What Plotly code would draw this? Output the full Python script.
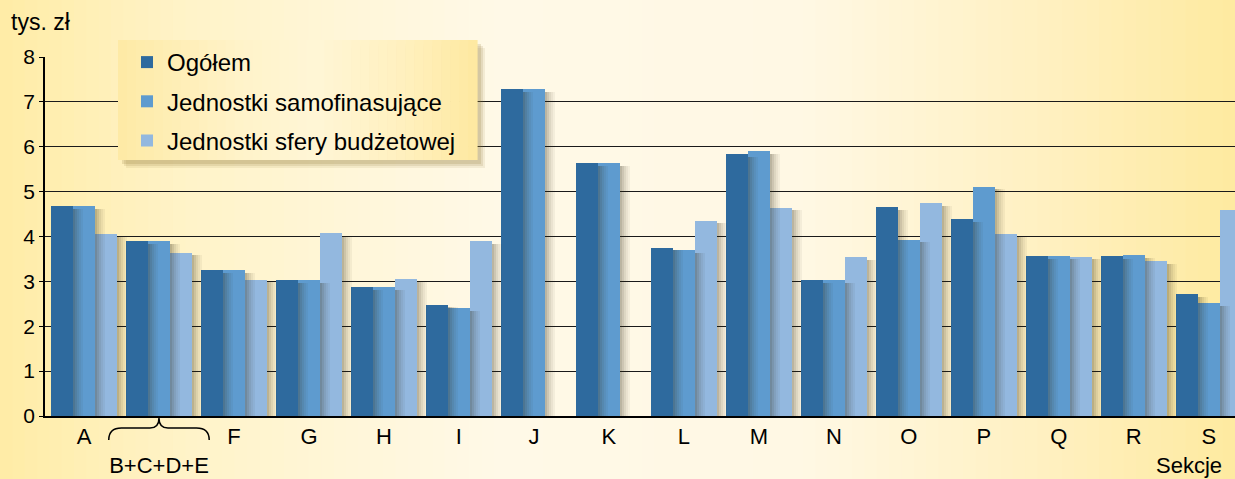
import plotly.graph_objects as go

categories = ["A", "B+C+D+E", "F", "G", "H", "I", "J", "K", "L", "M", "N", "O", "P", "Q", "R", "S"]
series_names = ["Ogółem", "Jednostki samofinasujące", "Jednostki sfery budżetowej"]
ogolem = [4.68, 3.89, 3.25, 3.03, 2.87, 2.48, 7.29, 5.64, 3.75, 5.83, 3.02, 4.66, 4.39, 3.56, 3.56, 2.71]
samofin = [4.68, 3.89, 3.25, 3.03, 2.87, 2.40, 7.29, 5.64, 3.70, 5.90, 3.02, 3.93, 5.11, 3.56, 3.58, 2.52]
budzet = [4.05, 3.64, 3.04, 4.07, 3.06, 3.90, None, None, 4.35, 4.64, 3.54, 4.74, 4.05, 3.55, 3.45, 4.58]
tick_labels = ["A", "<br>B+C+D+E", "F", "G", "H", "I", "J", "K", "L", "M", "N", "O", "P", "Q", "R", "S"]
y_ticks = [0, 1, 2, 3, 4, 5, 6, 7, 8]

series = [ogolem, samofin, budzet]
colors = ["#2E6A9E", "#5E9BCF", "#93B8DF"]
FONT = "Liberation Sans, Arial, sans-serif"

W, H = 1235, 479
ML, MR, MT, MB = 45, 0, 57, 63
PW, PH = W - ML - MR, H - MT - MB

bw = 0.2933
g0 = -0.44
xs = list(range(len(categories)))

fig = go.Figure()

for k, (vals, name, col) in enumerate(zip(series, series_names, colors)):
    fig.add_trace(go.Bar(
        x=xs, y=vals, name=name, marker=dict(color=col, line=dict(width=0)),
        width=bw, offset=g0 + k * bw, legendgroup=name,
    ))

# shadow strips at the right edge of every bar
strip_w = 0.027
alphas = [0.32, 0.24, 0.16, 0.10, 0.05]
for j, a in enumerate(alphas):
    sx, sy, so = [], [], []
    for k, vals in enumerate(series):
        for g, v in zip(xs, vals):
            if v is None:
                continue
            sx.append(g)
            sy.append(v - 0.06)
            so.append(g0 + (k + 1) * bw + j * strip_w)
    fig.add_trace(go.Bar(
        x=sx, y=sy, width=strip_w + 0.002, offset=so,
        marker=dict(color=f"rgba(45,38,15,{a})", line=dict(width=0)),
        showlegend=False, hoverinfo="skip",
    ))

def make_interp(stops):
    def interp(t):
        for (t0, c0), (t1, c1) in zip(stops[:-1], stops[1:]):
            if t0 <= t <= t1:
                f = (t - t0) / (t1 - t0)
                return tuple(round(a + (b - a) * f) for a, b in zip(c0, c1))
        return stops[-1][1]
    return interp

bg_interp = make_interp([(0.0, (255, 236, 166)), (0.15, (255, 243, 200)), (0.40, (255, 249, 231)),
                         (0.65, (255, 248, 228)), (0.85, (255, 240, 192)), (1.0, (254, 234, 160))])

def px(pix):
    return (pix - ML) / PW

def py(pix):
    return (H - MB - pix) / PH

shapes = []
N = 100
for i in range(N):
    t = (i + 0.5) / N
    shapes.append(dict(
        type="rect", xref="paper", yref="paper", layer="below",
        x0=px(W * i / N), x1=px(W * (i + 1) / N + 1),
        y0=py(H), y1=py(0),
        fillcolor=f"rgb{bg_interp(t)}", line=dict(width=0),
    ))

# brace under the grouped category
c = categories.index("B+C+D+E")
yb, ym, yt = py(440), py(428), py(418)
path = (f"M {c-0.67},{yb} Q {c-0.67},{ym} {c-0.5},{ym} L {c-0.12},{ym} "
        f"Q {c},{ym} {c},{yt} Q {c},{ym} {c+0.12},{ym} L {c+0.5},{ym} "
        f"Q {c+0.67},{ym} {c+0.67},{yb}")
shapes.append(dict(type="path", xref="x", yref="paper", path=path,
                   line=dict(color="black", width=1.5), layer="above"))

# legend box: soft shadow + gradient fill
lx0, lx1, ly0, ly1 = 118, 477, 40, 160
for d, a in [(8, 0.10), (6, 0.14), (4, 0.18)]:
    shapes.append(dict(type="rect", xref="paper", yref="paper", layer="above",
                       x0=px(lx0 + d), x1=px(lx1 + d), y0=py(ly1 + d), y1=py(ly0 + d),
                       fillcolor=f"rgba(140,115,50,{a})", line=dict(width=0)))
leg_interp = make_interp([(0.0, (254, 234, 165)), (0.35, (255, 243, 202)), (0.55, (255, 246, 214)),
                          (0.8, (255, 240, 190)), (1.0, (254, 233, 160))])
M = 40
for i in range(M):
    t = (i + 0.5) / M
    shapes.append(dict(type="rect", xref="paper", yref="paper", layer="above",
                       x0=px(lx0 + (lx1 - lx0) * i / M), x1=px(lx0 + (lx1 - lx0) * (i + 1) / M + 0.6),
                       y0=py(ly1), y1=py(ly0),
                       fillcolor=f"rgb{leg_interp(t)}", line=dict(width=0)))

fig.update_layout(
    width=W, height=H, autosize=False,
    margin=dict(l=ML, r=MR, t=MT, b=MB, pad=0),
    paper_bgcolor="#FFF6D8", plot_bgcolor="rgba(0,0,0,0)",
    barmode="overlay", bargap=0,
    font=dict(family=FONT, size=21, color="black"),
    shapes=shapes,
    showlegend=True,
    legend=dict(
        x=px(127), y=py(ly0), xanchor="left", yanchor="top",
        bgcolor="rgba(0,0,0,0)", borderwidth=0, font=dict(size=24, family=FONT),
        traceorder="grouped", tracegroupgap=5,
        itemsizing="constant",
    ),
    xaxis=dict(
        range=[-0.52, 15.35], tickvals=xs, ticktext=tick_labels,
        showgrid=False, zeroline=False, showline=True, linecolor="black", linewidth=2,
        ticks="", tickfont=dict(size=22, family=FONT),
    ),
    yaxis=dict(
        range=[0, 8], tickvals=y_ticks, showgrid=True, gridcolor="#1a1a1a", gridwidth=1,
        zeroline=False, showline=True, linecolor="black", linewidth=1.5,
        ticks="outside", ticklen=4, tickcolor="black", tickfont=dict(size=21, family=FONT),
    ),
    annotations=[
        dict(text="tys. zł", xref="paper", yref="paper", x=px(9), y=py(22),
             xanchor="left", yanchor="middle", showarrow=False, font=dict(size=23, family=FONT)),
        dict(text="Sekcje", xref="paper", yref="paper", x=px(1224), y=py(465),
             xanchor="right", yanchor="middle", showarrow=False, font=dict(size=22, family=FONT)),
    ],
)

fig.write_html("out.html", config={"displayModeBar": False},
               post_script="document.body.style.margin='0';document.body.style.overflow='hidden';")
